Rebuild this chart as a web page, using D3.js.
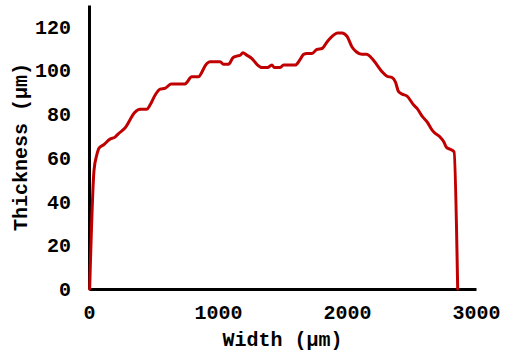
<!DOCTYPE html>
<html>
<head>
<meta charset="utf-8">
<script src="https://cdn.jsdelivr.net/npm/d3@7"></script>
<style>
  html, body { margin: 0; padding: 0; background: #fff; }
  svg { display: block; }
  text { font-family: "Liberation Mono", "Courier New", monospace; font-weight: bold; fill: #000; }
</style>
</head>
<body>
<svg id="chart" width="511" height="353"></svg>
<script>
// Thickness profile across the width of the sample
const widthUm = [5, 39, 60, 78, 111, 163, 202, 225, 279, 357, 396, 448, 473, 512, 551, 590, 636,
  745, 753, 797, 846, 913, 939, 1017, 1042, 1081, 1118, 1146, 1172, 1193, 1224, 1263, 1302,
  1340, 1384, 1418, 1436, 1482, 1508, 1599, 1637, 1663, 1690, 1728, 1767, 1806, 1845, 1896,
  1927, 1961, 2000, 2039, 2072, 2116, 2150, 2194, 2233, 2272, 2310, 2349, 2375, 2400, 2427,
  2466, 2517, 2543, 2582, 2621, 2660, 2685, 2724, 2750, 2771, 2802, 2830, 2858];
const thicknessUm = [0, 54.4, 61.3, 64.5, 65.9, 68.6, 69.5, 70.9, 73.7, 81, 82.3, 82.3, 84.2, 88.7,
  91.5, 91.9, 93.8, 93.8, 94.2, 97.1, 97.1, 103.2, 104, 104, 102.9, 102.9, 106, 106.6, 107,
  108.1, 107, 105.5, 102.8, 101.4, 101.4, 102.5, 101.4, 101.4, 102.5, 102.5, 105.1, 107.4,
  107.8, 107.8, 109.7, 110.1, 113.1, 116.2, 117.2, 117.2, 115.7, 110.8, 108.6, 107.4, 107.4,
  105.5, 102.5, 99.4, 97.4, 96.8, 94.8, 90.3, 89.2, 88.3, 84.2, 82.7, 79.1, 76.5, 72.7, 71.2,
  69.4, 67.4, 64.8, 63.9, 62.8, 0];

const xTicks = [0, 1000, 2000, 3000];
const yTicks = [0, 20, 40, 60, 80, 100, 120];
const xTitle = "Width (µm)";
const yTitle = "Thickness (µm)";

const points = widthUm.map((w, i) => ({ x: w, y: thicknessUm[i] }));

const svg = d3.select("#chart");
const plotLeft = 89, plotRight = 476, plotTop = 5, plotBottom = 289;

const x = d3.scaleLinear().domain([0, 3000]).range([plotLeft, plotRight]);
const y = d3.scaleLinear().domain([0, 130]).range([plotBottom, plotTop]);

// Axes: plain black lines, no tick marks
const xAxis = svg.append("g")
  .attr("transform", `translate(0,${plotBottom})`)
  .call(d3.axisBottom(x).tickValues(xTicks).tickSize(0).tickPadding(16).tickFormat(d3.format("d")));
const yAxis = svg.append("g")
  .attr("transform", `translate(${plotLeft},0)`)
  .call(d3.axisLeft(y).tickValues(yTicks).tickSize(0).tickPadding(18).tickFormat(d3.format("d")));

[xAxis, yAxis].forEach(g => {
  g.select(".domain").attr("stroke", "#000").attr("stroke-width", 3);
  g.selectAll("text")
    .style("font-family", "'Liberation Mono', 'Courier New', monospace")
    .style("font-weight", "bold")
    .style("font-size", "20px")
    .attr("fill", "#000");
});

// Thickness profile line
svg.append("path")
  .datum(points)
  .attr("fill", "none")
  .attr("stroke", "#c00000")
  .attr("stroke-width", 3)
  .attr("stroke-linejoin", "round")
  .attr("stroke-linecap", "round")
  .attr("d", d3.line().x(d => x(d.x)).y(d => y(d.y)).curve(d3.curveMonotoneX));

// Axis titles
svg.append("text")
  .attr("x", (plotLeft + plotRight) / 2)
  .attr("y", 346)
  .attr("text-anchor", "middle")
  .style("font-size", "20px")
  .text(xTitle);

svg.append("text")
  .attr("transform", `translate(27,${(plotTop + plotBottom) / 2}) rotate(-90)`)
  .attr("text-anchor", "middle")
  .style("font-size", "20px")
  .text(yTitle);
</script>
</body>
</html>
